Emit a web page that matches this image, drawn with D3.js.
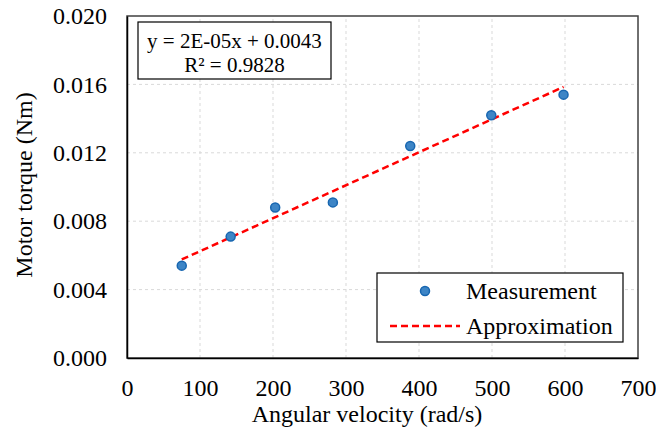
<!DOCTYPE html>
<html lang="en">
<head>
    <meta charset="utf-8">
    <title>Motor torque vs angular velocity</title>
    <script type="text/javascript" src="https://d3js.org/d3.v7.min.js"></script>
    <style type="text/css">
        body { margin: 0; background: #fff; }
        svg text { font-family: "Liberation Serif", Tinos, "Times New Roman", Times, "DejaVu Serif", "Noto Serif", serif; }
    </style>
</head>
<body>
<script type="text/javascript">

    // measured points
    var velocity = [75, 142, 203, 282, 388, 499, 598];
    var torque = [0.0054, 0.0071, 0.0088, 0.0091, 0.0124, 0.0142, 0.0154];

    var xTicks = [0, 100, 200, 300, 400, 500, 600, 700];
    var yTicks = [0.000, 0.004, 0.008, 0.012, 0.016, 0.020];
    var equationLines = ["y = 2E-05x + 0.0043", "R\u00b2 = 0.9828"];
    var legendNames = ["Measurement", "Approximation"];

    var width = 656, height = 432;
    var margin = {top: 16, right: 18, bottom: 74, left: 127};

    var svg = d3.select("body")
        .append("svg")
        .attr("width", width)
        .attr("height", height);

    var x = d3.scaleLinear().domain([0, 700]).range([margin.left, width - margin.right]);
    var y = d3.scaleLinear().domain([0, 0.020]).range([height - margin.bottom, margin.top]);

    // grid
    svg.append("g")
        .selectAll("line")
        .data(xTicks.slice(1, -1))
        .enter().append("line")
        .attr("x1", function(d) { return x(d); })
        .attr("x2", function(d) { return x(d); })
        .attr("y1", y(0)).attr("y2", y(0.020))
        .attr("stroke", "#d9d9d9").attr("stroke-dasharray", "3,3");

    svg.append("g")
        .selectAll("line")
        .data(yTicks.slice(1, -1))
        .enter().append("line")
        .attr("y1", function(d) { return y(d); })
        .attr("y2", function(d) { return y(d); })
        .attr("x1", x(0)).attr("x2", x(700))
        .attr("stroke", "#d9d9d9").attr("stroke-dasharray", "3,3");

    // plot frame
    svg.append("rect")
        .attr("x", x(0)).attr("y", y(0.020))
        .attr("width", x(700) - x(0)).attr("height", y(0) - y(0.020))
        .attr("fill", "none").attr("stroke", "#404040").attr("stroke-width", 1.5);

    // axes
    var xAxis = svg.append("g")
        .attr("transform", "translate(0," + y(0) + ")")
        .call(d3.axisBottom(x).tickValues(xTicks).tickSize(0).tickPadding(21));
    var yAxis = svg.append("g")
        .attr("transform", "translate(" + x(0) + ",0)")
        .call(d3.axisLeft(y).tickValues(yTicks).tickSize(0).tickPadding(20).tickFormat(d3.format(".3f")));

    [xAxis, yAxis].forEach(function(a) {
        a.attr("font-family", null).attr("font-size", null);
        a.select(".domain").attr("stroke", "#000").attr("stroke-width", 1.5);
        a.selectAll("text")
            .attr("font-size", 24)
            .attr("fill", "#000");
    });

    svg.append("text")
        .attr("x", 367)
        .attr("y", 422)
        .attr("text-anchor", "middle")
        .attr("font-size", 24)
        .text("Angular velocity (rad/s)");

    svg.append("text")
        .attr("transform", "translate(32,185) rotate(-90)")
        .attr("text-anchor", "middle")
        .attr("font-size", 24)
        .text("Motor torque (Nm)");

    // least-squares trend line
    var mx = d3.mean(velocity), my = d3.mean(torque);
    var sxy = d3.sum(velocity, function(v, i) { return (v - mx) * (torque[i] - my); });
    var sxx = d3.sum(velocity, function(v) { return (v - mx) * (v - mx); });
    var slope = sxy / sxx, intercept = my - slope * mx;
    var xr = d3.extent(velocity);

    svg.append("line")
        .attr("x1", x(xr[0])).attr("y1", y(slope * xr[0] + intercept))
        .attr("x2", x(xr[1])).attr("y2", y(slope * xr[1] + intercept))
        .attr("stroke", "#ff0000").attr("stroke-width", 2.5)
        .attr("stroke-dasharray", "7,4");

    svg.append("g")
        .selectAll("circle")
        .data(velocity)
        .enter().append("circle")
        .attr("cx", function(d) { return x(d); })
        .attr("cy", function(d, i) { return y(torque[i]); })
        .attr("r", 4.5)
        .attr("fill", "#3d85c6")
        .attr("stroke", "#1766b0")
        .attr("stroke-width", 1.5);

    // equation box
    svg.append("rect")
        .attr("x", 138).attr("y", 22).attr("width", 193).attr("height", 57)
        .attr("fill", "#fff").attr("stroke", "#000").attr("stroke-width", 1.2);
    svg.append("g")
        .selectAll("text")
        .data(equationLines)
        .enter().append("text")
        .attr("x", 234.5)
        .attr("y", function(d, i) { return 48 + i * 24; })
        .attr("text-anchor", "middle")
        .attr("font-size", 21)
        .text(function(d) { return d; });

    // legend
    var legend = svg.append("g");
    legend.append("rect")
        .attr("x", 377).attr("y", 273).attr("width", 246).attr("height", 69)
        .attr("fill", "#fff").attr("stroke", "#000").attr("stroke-width", 1.2);
    legend.append("circle")
        .attr("cx", 425).attr("cy", 291).attr("r", 4.5)
        .attr("fill", "#3d85c6").attr("stroke", "#1766b0").attr("stroke-width", 1.5);
    legend.append("line")
        .attr("x1", 390).attr("x2", 460).attr("y1", 326).attr("y2", 326)
        .attr("stroke", "#ff0000").attr("stroke-width", 2.5).attr("stroke-dasharray", "7,4");
    legend.selectAll("text.lg")
        .data(legendNames)
        .enter().append("text")
        .attr("class", "lg")
        .attr("x", 466)
        .attr("y", function(d, i) { return 299 + i * 35; })
        .attr("font-size", 24)
        .text(function(d) { return d; });

</script>
</body>
</html>
